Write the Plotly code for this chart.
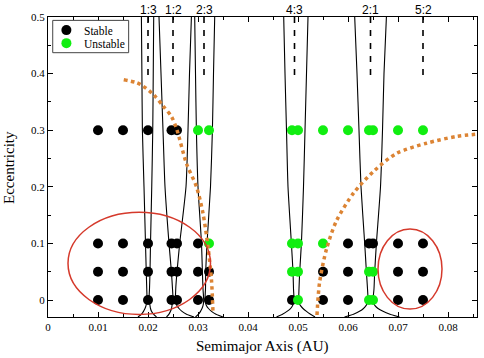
import plotly.graph_objects as go

# ---------------- data ----------------
# simulated planets: semimajor axis (AU), eccentricity
stable_a = [0.01, 0.015, 0.02, 0.0247, 0.0258,
            0.01, 0.015, 0.02, 0.0247, 0.0258, 0.03, 0.06, 0.0642, 0.065, 0.07, 0.075,
            0.01, 0.015, 0.02, 0.0247, 0.0258, 0.03, 0.0322, 0.055, 0.06, 0.07, 0.075,
            0.01, 0.015, 0.02, 0.0247, 0.0258, 0.03, 0.0322, 0.0488, 0.055, 0.06, 0.07, 0.075]
stable_e = [0.3] * 5 + [0.1] * 11 + [0.05] * 11 + [0.0] * 12

unstable_a = [0.03, 0.0322, 0.0488, 0.05, 0.055, 0.06, 0.0642, 0.065, 0.07, 0.075,
              0.0322, 0.0488, 0.05, 0.055,
              0.0488, 0.05, 0.0642, 0.065,
              0.05, 0.0642, 0.065]
unstable_e = [0.3] * 10 + [0.1] * 4 + [0.05] * 4 + [0.0] * 3

# resonance labels and nominal locations
res_labels = ["1:3", "1:2", "2:3", "4:3", "2:1", "5:2"]
res_centers = [0.02, 0.025, 0.0312, 0.0493, 0.0645, 0.075]
res_mark_e = [0.5, 0.39]

# resonance width boundaries, sampled on a common eccentricity grid
E_GRID = [0.5, 0.4, 0.3, 0.2, 0.1, 0.05, 0.02, 0.0, -0.005, -0.01, -0.015, -0.02, -0.025, -0.03]
res_13_left = [0.01868, 0.01878, 0.01888, 0.0192, 0.0195, 0.01965, 0.01975, 0.0198, 0.0197, 0.0196, 0.0194, 0.0191, 0.0187, 0.0180]
res_13_right = [0.02114, 0.02105, 0.02095, 0.02075, 0.0205, 0.0204, 0.0203, 0.0202, 0.0203, 0.0204, 0.0205, 0.0207, 0.0211, 0.0217]
res_12_left = [0.0222, 0.0226, 0.0230, 0.0234, 0.0242, 0.02468, 0.0249, 0.0250, 0.0249, 0.0248, 0.0247, 0.0245, 0.0242, 0.0237]
res_12_right = [0.02868, 0.0283, 0.0280, 0.0276, 0.02634, 0.0258, 0.02555, 0.0255, 0.0256, 0.0258, 0.0262, 0.0268, 0.0277, 0.0292]
res_23_left = [0.02934, 0.0295, 0.02968, 0.0300, 0.0307, 0.03088, 0.0310, 0.03114, 0.0311, 0.0310, 0.0308, 0.0305, 0.0301, 0.0295]
res_23_right = [0.03334, 0.0331, 0.03288, 0.0325, 0.0318, 0.03154, 0.0315, 0.0314, 0.0315, 0.0317, 0.0321, 0.0327, 0.0336, 0.0350]
res_43_left = [0.04714, 0.0474, 0.0477, 0.0480, 0.04868, 0.0490, 0.0491, 0.0492, 0.0491, 0.0489, 0.0485, 0.0478, 0.0469, 0.0457]
res_43_right = [0.0520, 0.0517, 0.0514, 0.0511, 0.05068, 0.05034, 0.0502, 0.05014, 0.0502, 0.0505, 0.0510, 0.0517, 0.0525, 0.0534]
res_21_left = [0.06134, 0.0618, 0.0622, 0.0626, 0.06334, 0.06368, 0.0639, 0.0640, 0.0639, 0.0636, 0.0631, 0.0623, 0.0611, 0.0593]
res_21_right = [0.06768, 0.0672, 0.0669, 0.0665, 0.06568, 0.06534, 0.0652, 0.0650, 0.0651, 0.0654, 0.0660, 0.0670, 0.0684, 0.0703]

# orange dotted stability boundaries
inner_bound_a = [0.01515, 0.0177, 0.019, 0.0212, 0.023, 0.0247, 0.0257, 0.0277, 0.0297, 0.031, 0.032, 0.0327, 0.033]
inner_bound_e = [0.389, 0.384, 0.378, 0.362, 0.343, 0.324, 0.303, 0.241, 0.2, 0.153, 0.094, 0.035, -0.024]
outer_bound_a = [0.0538, 0.0543, 0.0557, 0.0577, 0.0612, 0.0652, 0.0697, 0.0757, 0.0817, 0.0858]
outer_bound_e = [-0.0265, 0.03, 0.09, 0.14, 0.19, 0.228, 0.259, 0.277, 0.289, 0.293]

# highlighted regions (a range, e range)
region_left_a = [0.004, 0.0325]
region_left_e = [-0.0255, 0.155]
region_right_a = [0.066, 0.0788]
region_right_e = [-0.016, 0.1254]

# ---------------- figure ----------------
SERIF = "Liberation Serif"
fig = go.Figure()

for left, right in [(res_13_left, res_13_right), (res_12_left, res_12_right),
                    (res_23_left, res_23_right), (res_43_left, res_43_right),
                    (res_21_left, res_21_right)]:
    for side in (left, right):
        fig.add_trace(go.Scatter(x=side, y=E_GRID, mode="lines",
                                 line=dict(color="black", width=1.1, shape="spline", smoothing=0.6),
                                 showlegend=False, hoverinfo="skip"))

for c in res_centers:
    fig.add_trace(go.Scatter(x=[c, c], y=res_mark_e, mode="lines",
                             line=dict(color="black", width=1.6, dash="6px,7px"),
                             showlegend=False, hoverinfo="skip"))

fig.add_trace(go.Scatter(x=stable_a, y=stable_e, mode="markers", name="Stable",
                         marker=dict(color="black", size=10, line=dict(width=0)),
                         showlegend=False))
fig.add_trace(go.Scatter(x=unstable_a, y=unstable_e, mode="markers", name="Unstable",
                         marker=dict(color="#11ee11", size=10, line=dict(width=0)),
                         showlegend=False))

for xa, ye in [(inner_bound_a, inner_bound_e), (outer_bound_a, outer_bound_e)]:
    fig.add_trace(go.Scatter(x=xa, y=ye, mode="lines",
                             line=dict(color="#dc8434", width=3.5, dash="dot", shape="spline", smoothing=0.8),
                             showlegend=False, hoverinfo="skip"))

for ra, re_ in [(region_left_a, region_left_e), (region_right_a, region_right_e)]:
    fig.add_shape(type="circle", xref="x", yref="y", x0=ra[0], x1=ra[1], y0=re_[0], y1=re_[1],
                  line=dict(color="#d5392b", width=1.5))

for lab, c in zip(res_labels, res_centers):
    fig.add_annotation(x=c, y=1, xref="x", yref="paper", text=lab, showarrow=False,
                       yanchor="bottom", yshift=-2,
                       font=dict(family="Liberation Sans", size=12, color="black"))

# manual legend
fig.add_shape(type="rect", xref="paper", yref="paper", x0=0.011, x1=0.188, y0=0.881, y1=0.9887,
              line=dict(color="#444", width=1), fillcolor="white", layer="above")
for yy, col, lab in [(0.9563, "black", "Stable"), (0.9129, "#11ee11", "Unstable")]:
    fig.add_shape(type="circle", xref="paper", yref="paper", xsizemode="pixel", ysizemode="pixel",
                  xanchor=0.0429, yanchor=yy, x0=-5, x1=5, y0=-5, y1=5,
                  fillcolor=col, line=dict(width=0), layer="above")
    fig.add_annotation(x=0.081, y=yy, xref="paper", yref="paper", text=lab, showarrow=False,
                       xanchor="left", yanchor="middle", height=11, borderpad=0,
                       font=dict(family=SERIF, size=11.5, color="black"))

# axis titles
fig.add_annotation(x=0.5, y=-0.099, xref="paper", yref="paper", text="Semimajor Axis (AU)",
                   showarrow=False, xanchor="center", yanchor="middle",
                   font=dict(family=SERIF, size=15, color="black"))
fig.add_annotation(x=-0.091, y=0.5, xref="paper", yref="paper", text="Eccentricity",
                   showarrow=False, xanchor="center", yanchor="middle", textangle=-90,
                   font=dict(family=SERIF, size=15, color="black"))

axis_common = dict(showline=True, linecolor="black", linewidth=1, mirror="ticks",
                   ticks="inside", ticklen=5, tickcolor="black", showgrid=False, zeroline=False,
                   automargin=False,
                   tickfont=dict(family=SERIF, size=11, color="black"))
fig.update_xaxes(range=[0, 0.0858], dtick=0.01, tick0=0,
                 minor=dict(dtick=0.005, ticks="inside", ticklen=3, tickcolor="black"),
                 **axis_common)
fig.update_yaxes(range=[-0.03, 0.5], dtick=0.1, tick0=0,
                 minor=dict(dtick=0.05, ticks="inside", ticklen=3, tickcolor="black"),
                 **axis_common)
fig.update_layout(width=484, height=358, margin=dict(l=48, r=7, t=17, b=41),
                  plot_bgcolor="white", paper_bgcolor="white", showlegend=False)

fig.write_html("out.html", config={"displayModeBar": False},
               post_script="document.body.style.margin='0';document.body.style.overflow='hidden';")
